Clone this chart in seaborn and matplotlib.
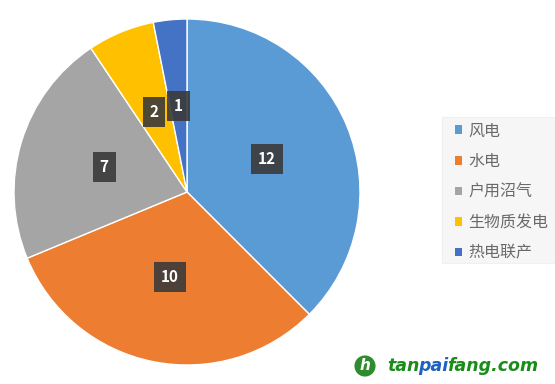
import matplotlib
matplotlib.use('Agg')
import matplotlib.pyplot as plt
import seaborn as sns
from matplotlib.patches import Patch, Rectangle

# data
categories = ['风电', '水电', '户用沼气', '生物质发电', '热电联产']
values = [12, 10, 7, 2, 1]
colors = ['#5B9BD5', '#ED7D31', '#A5A5A5', '#FFC000', '#4472C4']

sns.set_style('white')
plt.rcParams['font.family'] = ['Noto Sans CJK SC', 'DejaVu Sans']

fig = plt.figure(figsize=(5.55, 3.84), dpi=100)
ax = fig.add_axes([14 / 555, 19 / 384, 346 / 555, 346 / 384])

wedges, texts, autotexts = ax.pie(
    values, colors=colors, startangle=90, counterclock=False,
    autopct=lambda p: f'{p * sum(values) / 100:.0f}', pctdistance=0.5,
    wedgeprops=dict(edgecolor='white', linewidth=1))
for t in autotexts:
    t.set_color('white')
    t.set_fontsize(11)
    t.set_fontweight('bold')
    t.set_bbox(dict(boxstyle='square,pad=0.45', facecolor='#3a3a3a', edgecolor='none', alpha=0.9))
ax.set_xlim(-1, 1)
ax.set_ylim(-1, 1)
ax.set_aspect('equal')

# legend panel background
fig.patches.append(Rectangle((442 / 555, 1 - 263 / 384), 113 / 555, 146 / 384,
                             transform=fig.transFigure, facecolor='#f6f6f6',
                             edgecolor='#f0f0f0', linewidth=0.8, zorder=0))

handles = [Patch(facecolor=c, edgecolor='none') for c in colors]
leg = fig.legend(handles, categories, loc='center left', bbox_to_anchor=(442 / 555, 1 - 192 / 384),
                 frameon=False, fontsize=11.5, handlelength=0.45, handleheight=0.45,
                 handletextpad=0.4, labelspacing=0.85, borderpad=0.8, borderaxespad=0,
                 labelcolor='#6a6a6a')

# watermark
fig.text(365 / 555, 1 - 366 / 384, 'h', color='white', fontsize=11, fontweight='bold', style='italic',
         ha='center', va='center', family='DejaVu Sans',
         bbox=dict(boxstyle='circle,pad=0.2', facecolor='#2e8b2e', edgecolor='none'))
renderer = fig.canvas.get_renderer()
x = 387
for part, col in [('tan', '#1a8c1a'), ('pai', '#2060c0'), ('fang.com', '#1a8c1a')]:
    t = fig.text(x / 555, 1 - 366 / 384, part, color=col, fontsize=12.5, fontweight='bold',
                 style='italic', ha='left', va='center', family='DejaVu Sans')
    x = t.get_window_extent(renderer).x1 - 1

fig.savefig('out.png', dpi=100)
